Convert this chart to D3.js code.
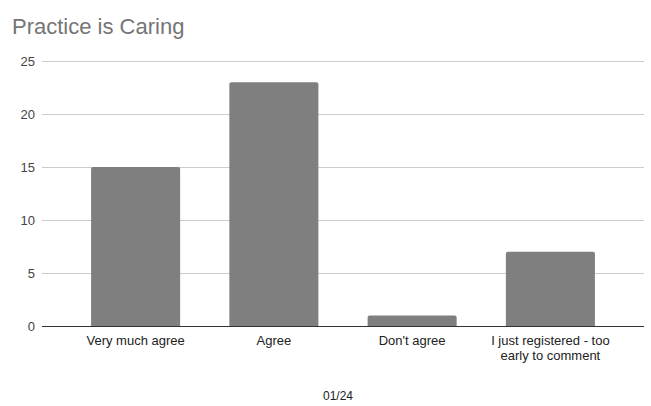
<!DOCTYPE html>
<html><head><meta charset="utf-8">
<script src="https://cdn.jsdelivr.net/npm/d3@7"></script>
<style>body{margin:0;background:#fff;}svg{display:block;font-family:"Liberation Sans",Arial,sans-serif;}</style>
</head><body>
<script>
const title = "Practice is Caring";
const categories = ["Very much agree", "Agree", "Don't agree", "I just registered - too early to comment"];
const values = [15, 23, 1, 7];
const yTicks = [0, 5, 10, 15, 20, 25];
const xAxisTitle = "01/24";

(function () {
const W = 651, H = 406;
const FONT = "'Liberation Sans', Arial, sans-serif";
const svg = d3.select("body").append("svg").attr("width", W).attr("height", H);
svg.append("rect").attr("width", W).attr("height", H).attr("fill", "#fff");

const mLeft = 42, mRight = 644, mTop = 61, mBottom = 326;
const x = d3.scaleBand().domain(categories).range([mLeft, mRight]).paddingInner(0.356).paddingOuter(0.355);
const y = d3.scaleLinear().domain([0, 25]).range([mBottom, mTop]);

svg.append("text").attr("x", 12).attr("y", 34).attr("font-size", 22).attr("fill", "#757575").text(title);

// gridlines
svg.append("g").selectAll("line").data(yTicks.filter(d => d > 0)).join("line")
  .attr("x1", mLeft).attr("x2", mRight).attr("y1", d => y(d) + 0.5).attr("y2", d => y(d) + 0.5)
  .attr("stroke", "#cccccc").attr("stroke-width", 1);

// y axis labels
const yAxis = d3.axisLeft(y).tickValues(yTicks).tickSize(0).tickPadding(7);
const yg = svg.append("g").attr("transform", `translate(${mLeft},0)`).call(yAxis);
yg.select(".domain").remove();
yg.selectAll("text").attr("font-size", 13).attr("fill", "#444").attr("font-family", FONT);

// bars
const r = 2;
svg.append("g").selectAll("path").data(values).join("path")
  .attr("fill", "#7f7f7f")
  .attr("d", (d, i) => {
    const x0 = x(categories[i]), w = x.bandwidth(), y0 = y(d), y1 = y(0);
    return `M${x0},${y1}V${y0 + r}Q${x0},${y0} ${x0 + r},${y0}H${x0 + w - r}Q${x0 + w},${y0} ${x0 + w},${y0 + r}V${y1}Z`;
  });

// baseline
svg.append("line").attr("x1", mLeft).attr("x2", mRight).attr("y1", mBottom + 0.5).attr("y2", mBottom + 0.5)
  .attr("stroke", "#333").attr("stroke-width", 1);

// x labels (wrapped)
const wrapMap = {"I just registered - too early to comment": ["I just registered - too", "early to comment"]};
const xg = svg.append("g");
categories.forEach(c => {
  const lines = wrapMap[c] || [c];
  const t = xg.append("text").attr("text-anchor", "middle").attr("font-size", 13).attr("fill", "#222")
    .attr("x", x(c) + x.bandwidth() / 2).attr("y", 345);
  lines.forEach((ln, k) => t.append("tspan").attr("x", x(c) + x.bandwidth() / 2).attr("dy", k === 0 ? 0 : 15).text(ln));
});

svg.append("text").attr("x", 338).attr("y", 400).attr("text-anchor", "middle").attr("font-size", 12).attr("fill", "#222").text(xAxisTitle);
})();
</script>
</body></html>
